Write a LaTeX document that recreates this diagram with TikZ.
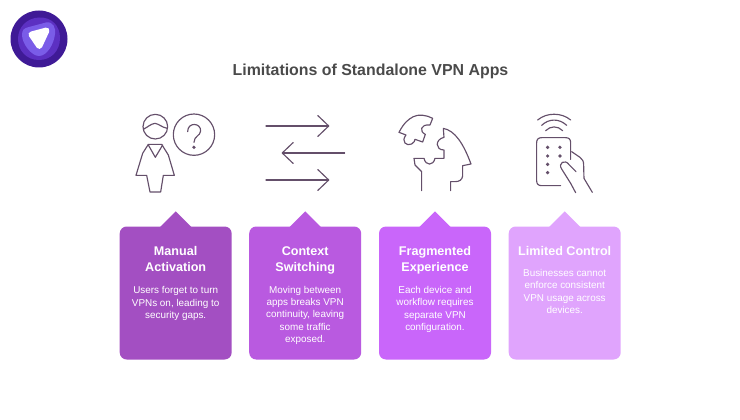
\documentclass[tikz,border=0pt]{standalone}
\usepackage{fontspec}
\setmainfont{Liberation Sans}
\usepackage{tikz}
\usetikzlibrary{positioning}
\usetikzlibrary{arrows.meta}
\usetikzlibrary{math}

\definecolor{cardA}{HTML}{A34FC2}
\definecolor{cardB}{HTML}{B95AE0}
\definecolor{cardC}{HTML}{C966FA}
\definecolor{cardD}{HTML}{E0A4FD}
\definecolor{iconLine}{HTML}{644F6A}
\definecolor{titleGray}{HTML}{4A4A4A}
\definecolor{logoA}{HTML}{3F1A96}
\definecolor{logoB}{HTML}{5C30C2}
\definecolor{logoC}{HTML}{7A5CE8}

\tikzset{
  cardbox/.style={rectangle,rounded corners=7pt,minimum width=112pt,minimum height=133pt,inner sep=0pt},
  cardtitle/.style={text=white,align=center,inner sep=0pt,font=\fontsize{12.6}{16.3}\selectfont\bfseries},
  cardtext/.style={text=white,align=center,inner sep=0pt,font=\fontsize{9.9}{12.4}\selectfont},
  icon/.style={iconLine,line width=1.15pt,line cap=round,line join=round},
  iconscope/.style={x=0.3333pt,y=-0.3333pt}
}

\begin{document}
\begin{tikzpicture}[x=1pt,y=-1pt]
      \tikzmath{
        \xManual = 175.7;
        \xContext = 305.2;
        \xFrag = 435;
        \xLimited = 564.7;
        \yCard = 293;
        \rDot = 5.5;
      }

      \useasboundingbox (0,0) rectangle (740,420);

      % logo
      \fill[logoA] (39,39) circle [radius=28.5];
      \fill[logoB] (39,17.5) .. controls (52,17) and (60,26) .. (60,38)
        .. controls (60,51) and (51,60) .. (39,60)
        .. controls (26,60) and (18,50) .. (18,39)
        .. controls (18,27) and (27,18) .. (39,17.5) -- cycle;
      \fill[logoC] (46,22.5) .. controls (53,21) and (56,28) .. (55,34)
        .. controls (54,44) and (47,56) .. (39,56)
        .. controls (31,56) and (22,43) .. (22,35)
        .. controls (22,30) and (24,28) .. (29,27) -- cycle;
      \fill[white,line join=round,draw=white,line width=6pt] (31.5,34.5) -- (46.5,30.5) -- (39.3,46) -- cycle;

      \node[text=titleGray,font=\fontsize{15.9}{18}\selectfont\bfseries] (heading) at (370.5,71) {Limitations of Standalone VPN Apps};

      % person with question
      \begin{scope}[shift={(120,100)},iconscope]
        \draw[icon] (106,80) circle [radius=37];
        \draw[icon] (70,88) .. controls (85,80) and (92,72) .. (105,70) .. controls (118,72) and (125,82) .. (142,85);
        \draw[icon] (222,104) circle [radius=62];
        \draw[icon] (203,95) .. controls (203,65) and (243,68) .. (242,93) .. controls (241,108) and (222,108) .. (222,127);
        \fill[iconLine] (222,142) circle [radius=\rDot];
        \draw[icon] (85,133) -- (125,133) -- (145,165) -- (163,226) -- (130,226) -- (122,276) -- (90,276) -- (80,226) -- (48,226) -- (68,160) -- cycle;
        \draw[icon] (85,135) -- (106,172) -- (128,135);
      \end{scope}

      % arrows
      \begin{scope}[shift={(120,100)},iconscope]
        \coordinate (topStart) at (438,78);
        \coordinate (topEnd) at (628,78);
        \coordinate (midStart) at (674,159);
        \coordinate (midEnd) at (485,159);
        \coordinate (lowStart) at (438,240);
        \coordinate (lowEnd) at (628,240);
        \draw[icon,-{Straight Barb[length=11pt,width=21pt,round]}] (topStart) -- (topEnd);
        \draw[icon,-{Straight Barb[length=11pt,width=21pt,round]}] (midStart) -- (midEnd);
        \draw[icon,-{Straight Barb[length=11pt,width=21pt,round]}] (lowStart) -- (lowEnd);
      \end{scope}

      % head with puzzle piece
      \begin{scope}[shift={(380,100)},iconscope]
        \draw[icon] (158,55) .. controls (140,45) and (115,42) .. (100,50) .. controls (85,58) and (72,68) .. (57,97)
          -- (78,105) .. controls (62,125) and (80,140) .. (95,132) .. controls (102,128) and (105,122) .. (105,118)
          -- (128,126) -- (136,103) .. controls (118,95) and (120,72) .. (150,75) -- cycle;
        \draw[icon] (125,272) -- (125,215) -- (105,195) -- (102,175) -- (132,175)
          .. controls (137,198) and (160,198) .. (165,175) -- (192,175) -- (192,150)
          .. controls (165,150) and (165,118) .. (192,112) -- (190,85)
          .. controls (225,92) and (250,130) .. (273,192) -- (248,197) -- (248,228)
          .. controls (246,240) and (238,245) .. (225,245) -- (212,245) -- (212,272);
      \end{scope}

      % remote in hand
      \begin{scope}[shift={(380,100)},iconscope]
        \draw[icon] (572,178) -- (572,128) .. controls (572,118) and (567,113) .. (557,113)
          -- (485,113) .. controls (475,113) and (470,118) .. (470,128)
          -- (470,242) .. controls (470,252) and (475,257) .. (485,257) -- (542,257);
        \fill[iconLine] (503,142) circle [radius=\rDot];
        \fill[iconLine] (540,142) circle [radius=\rDot];
        \fill[iconLine] (503,168) circle [radius=\rDot];
        \fill[iconLine] (540,168) circle [radius=\rDot];
        \fill[iconLine] (503,193) circle [radius=\rDot];
        \fill[iconLine] (503,218) circle [radius=\rDot];
        \draw[icon] (473,60) .. controls (500,37) and (545,37) .. (572,60);
        \draw[icon] (485,76) .. controls (507,55) and (538,55) .. (560,76);
        \draw[icon] (497,92) .. controls (512,77) and (533,77) .. (548,92);
        \draw[icon] (575,155) -- (600,172) .. controls (608,178) and (611,184) .. (611,195) -- (612,235) -- (637,277);
        \draw[icon] (587,278) -- (572,250) -- (545,207) .. controls (533,190) and (555,175) .. (568,195) -- (588,215);
      \end{scope}

      % cards
      \node[cardbox,fill=cardA] (manual) at (\xManual,\yCard) {};
      \fill[cardA] (manual.north) ++(-16,1) -- ++(16,-16) -- ++(16,16) -- cycle;
      \node[cardtitle,below=20pt of manual.north] (manualTitle) {Manual\\Activation};
      \node[cardtext,below=14pt of manualTitle] (manualText) {Users forget to turn\\VPNs on, leading to\\security gaps.};

      \node[cardbox,fill=cardB] (context) at (\xContext,\yCard) {};
      \fill[cardB] (context.north) ++(-16,1) -- ++(16,-16) -- ++(16,16) -- cycle;
      \node[cardtitle,below=20pt of context.north] (contextTitle) {Context\\Switching};
      \node[cardtext,below=11.3pt of contextTitle] (contextText) {Moving between\\apps breaks VPN\\continuity, leaving\\some traffic\\exposed.};

      \node[cardbox,fill=cardC] (frag) at (\xFrag,\yCard) {};
      \fill[cardC] (frag.north) ++(-16,1) -- ++(16,-16) -- ++(16,16) -- cycle;
      \node[cardtitle,below=20pt of frag.north] (fragTitle) {Fragmented\\Experience};
      \node[cardtext,below=11.3pt of fragTitle] (fragText) {Each device and\\workflow requires\\separate VPN\\configuration.};

      \node[cardbox,fill=cardD] (limited) at (\xLimited,\yCard) {};
      \fill[cardD] (limited.north) ++(-16,1) -- ++(16,-16) -- ++(16,16) -- cycle;
      \node[cardtitle,below=20pt of limited.north] (limitedTitle) {Limited Control};
      \node[cardtext,below=13pt of limitedTitle] (limitedText) {Businesses cannot\\enforce consistent\\VPN usage across\\devices.};
\end{tikzpicture}
\end{document}
